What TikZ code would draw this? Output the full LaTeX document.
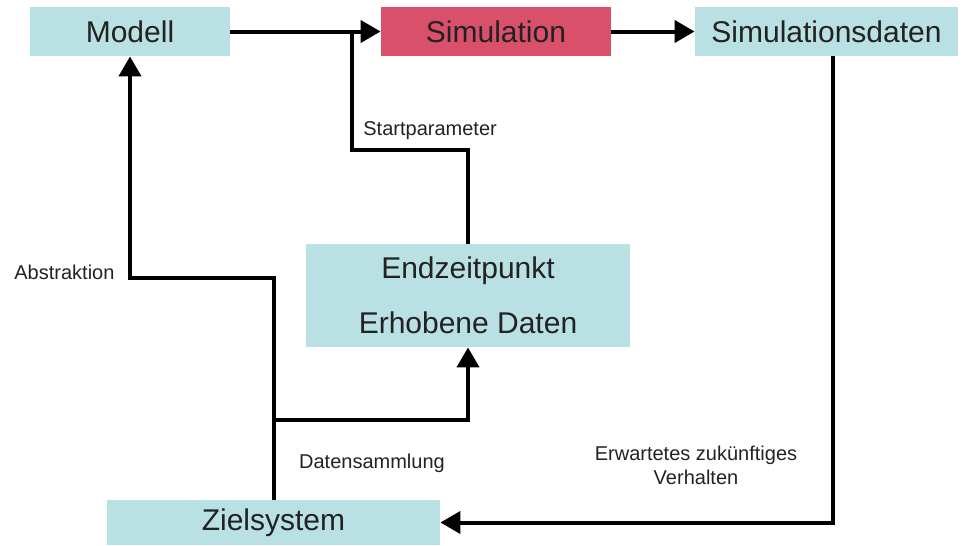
\documentclass[tikz,border=0pt]{standalone}
\usepackage{fontspec}
\setmainfont{Liberation Sans}
\usetikzlibrary{arrows.meta,positioning}
\definecolor{boxcyan}{HTML}{B9E0E3}
\definecolor{boxred}{HTML}{D9506A}
\definecolor{labelgray}{HTML}{222222}
\tikzstyle{box} = [fill=boxcyan, inner sep=0pt, minimum height=24.5pt, text=labelgray, font=\fontsize{15}{18}\selectfont]
\tikzstyle{arrow} = [-{Triangle[length=10pt,width=11pt]}, line width=2pt]
\tikzstyle{link} = [line width=2pt]
\tikzstyle{lbl} = [font=\fontsize{10}{12}\selectfont, text=labelgray, inner sep=0pt]

\begin{document}
\begin{tikzpicture}[x=0.5pt, y=-0.5pt]
\useasboundingbox (0,0) rectangle (965,546);

\node[box, minimum width=100pt] (modell) at (130,31.5) {Modell};
\node[box, fill=boxred, minimum width=115pt] (sim) at (496,31.5) {Simulation};
\node[box, minimum width=131.5pt] (sdat) at (826.5,31.5) {Simulationsdaten};
\node[box, minimum width=162pt, minimum height=51.5pt, align=center] (endz) at (468,295.5) {Endzeitpunkt\\[9.5pt]Erhobene Daten};
\node[box, minimum width=166.5pt, minimum height=22.5pt] (ziel) at (273.5,522.5) {Zielsystem};

% bends of the connectors
\coordinate (startknick) at (352,150);
\coordinate (abstrknick) at (130,278);
\coordinate (sammelpunkt) at (273.5,420);
\coordinate (verhknick) at (833,522.5);

\draw[arrow] (modell) -- (sim);
\draw[arrow] (sim) -- (sdat);
\draw[link] (endz.north) |- (startknick) -- (startknick |- modell.east);
\draw[arrow] (ziel.north) |- (abstrknick) -- (modell.south);
\draw[arrow] (sammelpunkt) -| (endz.south);
\draw[arrow] (sdat.south -| verhknick) -- (verhknick) -- (ziel.east);

\node[lbl, anchor=west] (lstart) at (363,131) {Startparameter};
\node[lbl, anchor=west] (labstr) at (14,272) {Abstraktion};
\node[lbl] (lsammel) at (372,463) {Datensammlung};
\node[lbl, align=center] (lverh) at (696,465) {Erwartetes zukünftiges\\Verhalten};
\end{tikzpicture}
\end{document}
